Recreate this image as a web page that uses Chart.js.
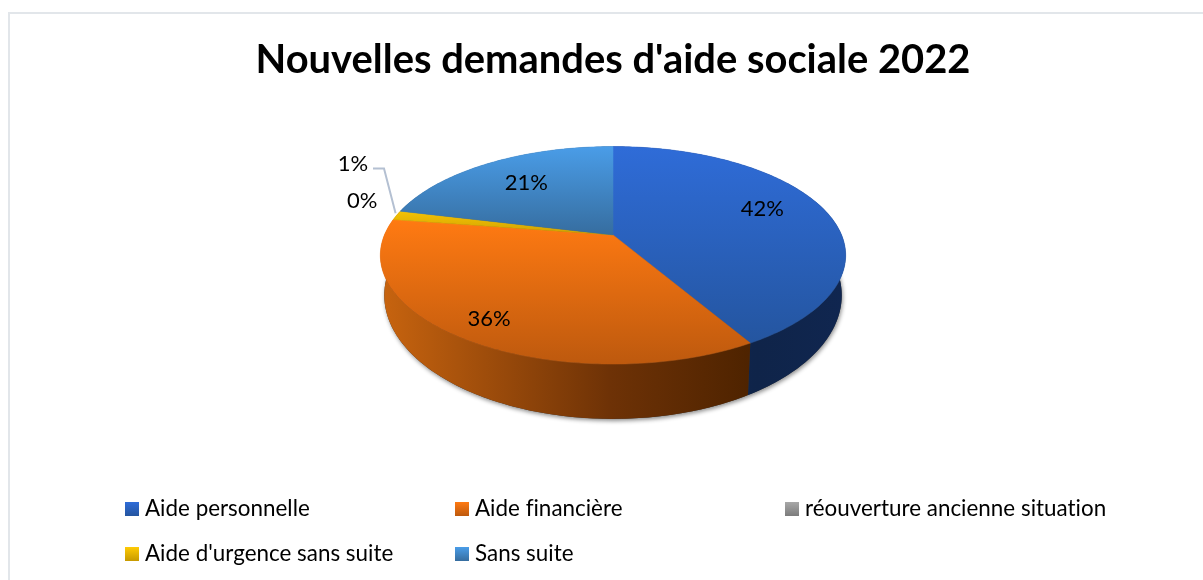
<!DOCTYPE html>
<html>
<head>
<meta charset="utf-8">
<script src="https://cdn.jsdelivr.net/npm/chart.js@4"></script>
<style>
  html, body { margin: 0; background: #fff; }
  #wrap { position: relative; width: 1203px; height: 580px; overflow: hidden; }
  #frame { position: absolute; left: 8px; top: 12px; width: 1300px; height: 600px; border: 2px solid #e2e6ea; }
  canvas { position: relative; }
</style>
</head>
<body>
<div id="wrap">
  <div id="frame"></div>
  <canvas id="myChart" width="1203" height="580"></canvas>
</div>
<script>
var chartTitle = "Nouvelles demandes d'aide sociale 2022";
var categories = ["Aide personnelle", "Aide financière", "réouverture ancienne situation", "Aide d'urgence sans suite", "Sans suite"];
var shares = [41.6, 35.8, 0, 1.4, 21.2];

// top face colours (light, dark) and side wall colours (left, middle, right)
var topColors = [["#2f6cd8", "#24559f"], ["#ff7a12", "#bd590e"], ["#a8a8a8", "#7c7c7c"], ["#ffcb05", "#c79a00"], ["#4a9de8", "#366d9f"]];
var wallColors = [["#12295a", "#0f2449", "#102650"], ["#c8640f", "#6e3206", "#4e2300"], ["#777", "#555", "#444"], ["#b58f00", "#8a6d00", "#6d5600"], ["#2a5a88", "#234a70", "#1d3d5c"]];

// how the flat pie is laid over on its back
var stretchX = 1.705, stretchY = 0.783, perspective = 0.187;
var bottomShrink = 0.983;

// where each percentage sits, nudged from 70% of the radius
var labelNudge = [[0, -8], [-23, 16], [-31, -19], [0, 0], [3, 0]];
var legendCols = [125, 455, 785];
var legendRows = [509, 554];

function project(arc, angle, r) {
  var x = Math.cos(angle) * r, y = Math.sin(angle) * r;
  var w = 1 - perspective * y;
  return {
    x: arc.x + arc.outerRadius * stretchX * x / w,
    y: arc.y + arc.outerRadius * stretchY * y / w
  };
}

function lower(arc, p) {
  return {
    x: arc.x + (p.x - arc.x) * bottomShrink,
    y: p.y + 40 + (p.y - 255) * 0.136
  };
}

function arcPoints(arc) {
  var pts = [];
  var steps = Math.max(2, Math.ceil((arc.endAngle - arc.startAngle) * 60));
  for (var i = 0; i <= steps; i++) {
    pts.push(project(arc, arc.startAngle + (arc.endAngle - arc.startAngle) * i / steps, 1));
  }
  return pts;
}

var tiltedPie = {
  id: "tiltedPie",
  beforeDatasetsDraw: function (chart) {
    var ctx = chart.ctx;
    var arcs = chart.getDatasetMeta(0).data;
    var first = arcs[0];
    var i, j;
    // vertical span of each top face gradient
    var faceSpans = [[146, 345], [220, 365], [146, 345], [205, 240], [146, 235]];

    // soft shadow under the base
    ctx.save();
    ctx.shadowColor = "rgba(0,0,0,0.45)";
    ctx.shadowBlur = 4;
    ctx.shadowOffsetX = 1;
    ctx.shadowOffsetY = 2;
    ctx.fillStyle = "#333";
    ctx.beginPath();
    for (i = 0; i <= 200; i++) {
      var b = lower(first, project(first, i / 200 * Math.PI * 2, 1));
      if (i === 0) ctx.moveTo(b.x, b.y); else ctx.lineTo(b.x, b.y);
    }
    ctx.closePath();
    ctx.fill();
    ctx.restore();

    // side walls
    for (i = 0; i < arcs.length; i++) {
      if (arcs[i].endAngle - arcs[i].startAngle <= 0) continue;
      var pts = arcPoints(arcs[i]);
      var minX = 1e9, maxX = -1e9;
      for (j = 0; j < pts.length; j++) {
        minX = Math.min(minX, pts[j].x);
        maxX = Math.max(maxX, pts[j].x);
      }
      var wg = ctx.createLinearGradient(minX, 0, maxX, 0);
      wg.addColorStop(0, wallColors[i][0]);
      wg.addColorStop(0.62, wallColors[i][1]);
      wg.addColorStop(1, wallColors[i][2]);
      ctx.fillStyle = wg;
      ctx.beginPath();
      for (j = 0; j < pts.length; j++) {
        if (j === 0) ctx.moveTo(pts[j].x, pts[j].y); else ctx.lineTo(pts[j].x, pts[j].y);
      }
      for (j = pts.length - 1; j >= 0; j--) {
        var q = lower(arcs[i], pts[j]);
        ctx.lineTo(q.x, q.y);
      }
      ctx.closePath();
      ctx.fill();
    }

    // top faces
    for (i = 0; i < arcs.length; i++) {
      if (arcs[i].endAngle - arcs[i].startAngle <= 0) continue;
      var face = arcPoints(arcs[i]);
      var g = ctx.createLinearGradient(0, faceSpans[i][0], 0, faceSpans[i][1]);
      g.addColorStop(0, topColors[i][0]);
      g.addColorStop(1, topColors[i][1]);
      ctx.fillStyle = g;
      ctx.strokeStyle = g;
      ctx.lineWidth = 0.5;
      ctx.beginPath();
      ctx.moveTo(arcs[i].x, arcs[i].y);
      for (j = 0; j < face.length; j++) ctx.lineTo(face[j].x, face[j].y);
      ctx.closePath();
      ctx.fill();
      ctx.stroke();
    }
    return false;
  },
  afterDraw: function (chart) {
    var ctx = chart.ctx;
    var arcs = chart.getDatasetMeta(0).data;
    var values = chart.data.datasets[0].data;
    var total = values.reduce(function (a, c) { return a + c; }, 0);
    var i;

    ctx.save();
    ctx.font = "22px Lato";
    ctx.fillStyle = "#000";
    ctx.textAlign = "center";
    ctx.textBaseline = "middle";
    ctx.letterSpacing = "0.01px"; // stops the "ti" ligature
    for (i = 0; i < arcs.length; i++) {
      var mid = (arcs[i].startAngle + arcs[i].endAngle) / 2;
      var small = values[i] / total < 0.05;
      var p = project(arcs[i], mid, small ? 1 : 0.7);
      var text = Math.round(values[i] / total * 100) + "%";
      if (i === 3) {
        // the 1% sits away from the slice on a leader line
        ctx.strokeStyle = "#b4c0d2";
        ctx.lineWidth = 2;
        ctx.beginPath();
        ctx.moveTo(p.x - 1, p.y - 2);
        ctx.lineTo(384, 168.5);
        ctx.lineTo(373, 168.5);
        ctx.stroke();
        ctx.fillText(text, 353, 164);
      } else {
        ctx.fillText(text, p.x + labelNudge[i][0], p.y + labelNudge[i][1]);
      }
    }

    // legend, laid out in three columns like the original
    ctx.font = "22.4px Lato";
    ctx.textAlign = "left";
    var labels = chart.data.labels;
    for (i = 0; i < labels.length; i++) {
      var kx = legendCols[i % 3], ky = legendRows[Math.floor(i / 3)];
      var kg = ctx.createLinearGradient(0, ky - 7, 0, ky + 7);
      kg.addColorStop(0, topColors[i][0]);
      kg.addColorStop(1, topColors[i][1]);
      ctx.fillStyle = kg;
      ctx.fillRect(kx, ky - 7, 14, 14);
      ctx.fillStyle = "#000";
      ctx.fillText(labels[i], kx + 20, ky);
    }
    ctx.restore();
  }
};

new Chart(document.getElementById("myChart"), {
  type: "pie",
  plugins: [tiltedPie],
  data: {
    labels: categories,
    datasets: [{
      data: shares,
      backgroundColor: topColors.map(function (c) { return c[0]; })
    }]
  },
  options: {
    responsive: false,
    animation: false,
    layout: { padding: { left: 23, bottom: 210 } },
    plugins: {
      legend: { display: false },
      tooltip: { enabled: false },
      title: {
        display: true,
        text: chartTitle,
        color: "#000",
        font: { family: "Lato", size: 39.9, weight: "bold" },
        padding: { top: 36, bottom: 16 }
      }
    }
  }
});
</script>
</body>
</html>
